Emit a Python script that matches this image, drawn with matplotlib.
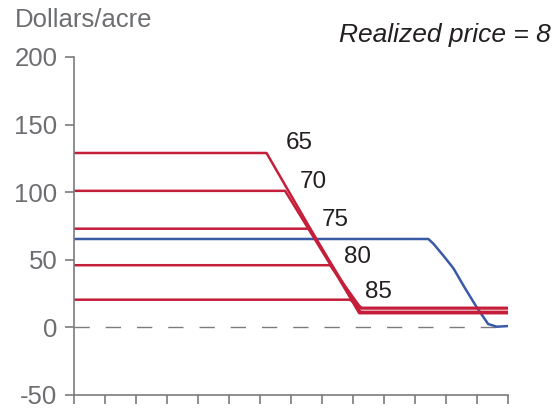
import matplotlib
matplotlib.use("Agg")
from matplotlib import pyplot as plt

plt.rcParams['font.family'] = ['Liberation Sans', 'DejaVu Sans']

# red curves: one per target price (flat, then down to the floor)
red_names = ['65', '70', '75', '80', '85']
red_x = [
    [0, 6.21, 9.20, 14],
    [0, 6.81, 9.22, 14],
    [0, 7.61, 9.24, 14],
    [0, 8.26, 9.26, 14],
    [0, 8.90, 9.28, 14],
]
red_y = [
    [129, 129, 10.5, 10.5],
    [101, 101, 11, 11],
    [73, 73, 11.5, 11.5],
    [46, 46, 14, 14],
    [20.5, 20.5, 14.5, 14.5],
]
label_x = [7.26, 7.71, 8.42, 9.13, 9.81]
label_y = [136.4, 107.5, 79.4, 52.1, 26.2]

# blue curve
blue_x = [0, 11.43, 11.59, 11.9, 12.24, 12.6, 12.99, 13.36, 13.64, 14]
blue_y = [65.4, 65.4, 62, 53.5, 43.7, 29.5, 14.9, 2.5, 0.5, 1]

yticks = [-50, 0, 50, 100, 150, 200]

red = '#c41e3a'
blue = '#3a5aa8'
gray = '#7a7b7e'
txt = '#231f20'

fig = plt.figure(figsize=(5.59, 4.09), dpi=100)
ax = fig.add_axes([74/559, 14/409, 434/559, 338/409])

ax.plot([0, 14], [0, 0], color=gray, lw=1.0, linestyle=(0, (11, 11.5)))
ax.plot(blue_x, blue_y, color=blue, lw=1.8, solid_joinstyle='round')
for i in range(len(red_names)):
    ax.plot(red_x[i], red_y[i], color=red, lw=1.8)
    ax.text(label_x[i], label_y[i], red_names[i], fontsize=17.5, color=txt,
            ha='center', va='center')

ax.set_xlim(0, 14)
ax.set_ylim(-50, 200)
ax.set_xticks(range(0, 15))
ax.set_xticklabels([])
ax.set_yticks(yticks)
ax.set_yticklabels([str(t) for t in yticks])
for s in ['top', 'right']:
    ax.spines[s].set_visible(False)
for s in ['left', 'bottom']:
    ax.spines[s].set_color(gray)
    ax.spines[s].set_linewidth(1.2)
ax.tick_params(axis='both', colors=gray, width=1.2, length=6.5, labelsize=18.5, pad=5.5)
ax.tick_params(axis='y', labelcolor='#6d6e71')

fig.text(15/559, 1 - 20/409, 'Dollars/acre', fontsize=18.5, color='#6d6e71',
         ha='left', va='center')
fig.text(339/559, 1 - 35/409, 'Realized price = 8', fontsize=19, color=txt,
         style='italic', ha='left', va='center')

plt.savefig('out.png', dpi=100)
